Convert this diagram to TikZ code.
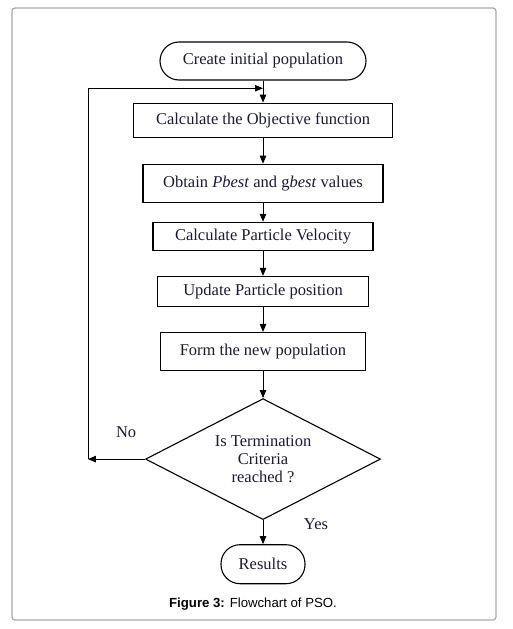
\documentclass[tikz,border=0pt]{standalone}
\usepackage{fontspec}
\setmainfont{Liberation Serif}
\newfontfamily\capfont{Liberation Sans}
\usetikzlibrary{positioning,arrows.meta,calc,shapes.geometric}
\definecolor{PSOInk}{HTML}{1A1A33}
\definecolor{PSOFrame}{HTML}{A8A8B0}

\begin{document}
\begin{tikzpicture}[
  x=1pt, y=-1pt,
  psobox/.style={draw=black, line width=1.1pt, inner sep=2pt, align=center, text=PSOInk, font=\fontsize{16.5}{18}\selectfont},
  psoterm/.style={psobox, rounded corners=19pt},
  psodecision/.style={draw=black, line width=1.1pt, shape=diamond, aspect=2, minimum width=235pt, minimum height=121pt, inner sep=0pt, align=center, text=PSOInk, font=\fontsize{16.5}{18}\selectfont},
  psoarrow/.style={-{Triangle[length=8pt,width=6.5pt]}, line width=0.9pt},
  psolabel/.style={text=PSOInk, font=\fontsize{16.5}{18}\selectfont}
]
\useasboundingbox (0,0) rectangle (513,629);
\draw[PSOFrame, line width=1.2pt, rounded corners=3pt] (12,8) rectangle (496,620);
\node[psoterm, minimum width=206pt, minimum height=38pt] (start) at (263,61) {Create initial population};
\node[psobox, minimum width=259pt, minimum height=34pt, below=22pt of start] (objective) {Calculate the Objective function};
\node[psobox, minimum width=240pt, minimum height=38pt, below=26pt of objective] (best) {Obtain \textit{Pbest} and g\textit{best} values};
\node[psobox, minimum width=220pt, minimum height=28pt, below=19pt of best] (velocity) {Calculate Particle Velocity};
\node[psobox, minimum width=211pt, minimum height=30pt, below=25pt of velocity] (position) {Update Particle position};
\node[psobox, minimum width=205pt, minimum height=38pt, below=25pt of position] (newpop) {Form the new population};
\node[psodecision, below=27pt of newpop] (terminate) {Is Termination\\Criteria\\reached ?};
\node[psoterm, minimum width=84pt, minimum height=39pt, below=24pt of terminate] (results) {Results};
\node[font=\capfont\fontsize{13.2}{15}\selectfont] (caption) at (253,604) {\textbf{Figure 3:} Flowchart of PSO.};
% loop back
\coordinate (join) at ($(start.south)!0.35!(objective.north)$);
\coordinate (noturn) at ([xshift=-57pt]terminate.west);
\draw[psoarrow] (start) -- (objective);
\draw[psoarrow] (objective) -- (best);
\draw[psoarrow] (best) -- (velocity);
\draw[psoarrow] (velocity) -- (position);
\draw[psoarrow] (position) -- (newpop);
\draw[psoarrow] (newpop) -- (terminate);
\draw[psoarrow] (terminate.west) -- node[psolabel, pos=0.33, yshift=27pt] {No} (noturn);
\draw[psoarrow] (noturn) |- (join);
\draw[psoarrow] (terminate.south) -- node[psolabel, pos=0.15, xshift=53pt] {Yes} (results.north);
\end{tikzpicture}
\end{document}
